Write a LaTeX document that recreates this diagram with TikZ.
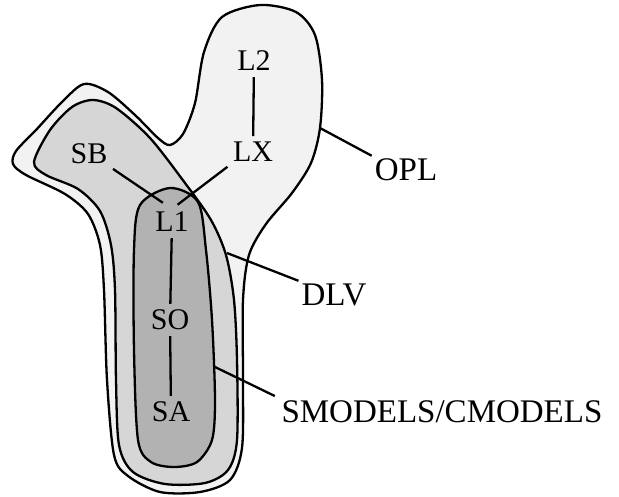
\documentclass[tikz,border=0pt]{standalone}
\usepackage{fontspec}
\setmainfont{Liberation Serif}
\definecolor{oplgray}{gray}{0.95}
\definecolor{dlvgray}{gray}{0.84}
\definecolor{smodgray}{gray}{0.70}

\begin{document}
\begin{tikzpicture}[x=1pt,y=-1pt,line width=2.3pt,
    lbl/.style={inner sep=2pt,font=\fontsize{30}{36}\selectfont},
    tag/.style={inner sep=2pt,font=\fontsize{33}{40}\selectfont},
    link/.style={shorten <=3pt,shorten >=3pt}]
    \useasboundingbox (0,0) rectangle (619,496);
    \filldraw[fill=oplgray] plot[smooth cycle] coordinates {(13,164) (16,151) (36,130) (62,102) (84,84) (108,92) (135,115) (158,138) (170,145) (183,134) (195,103) (204,52) (222,17) (260,5) (296,12) (315,35) (322,80) (320,128) (311,163) (292,193) (266,224) (249,255) (243,300) (243,380) (242,448) (230,480) (200,492) (160,492) (128,476) (114,455) (107,380) (104,290) (100,245) (88,214) (65,194) (26,175)};
    \filldraw[fill=dlvgray] plot[smooth cycle] coordinates {(34,162) (50,130) (72,107) (93,100) (116,108) (150,138) (185,183) (211,220) (226,255) (234,300) (237,360) (237,440) (228,470) (205,483) (165,484) (133,472) (119,445) (116,380) (115,290) (111,245) (100,211) (78,189) (46,175)};
    \filldraw[fill=smodgray] plot[smooth cycle] coordinates {(134,250) (140,205) (170,188) (198,202) (206,250) (212,320) (215,400) (212,440) (197,462) (174,467) (151,462) (138,440) (134,350)};
    \node[lbl] (L2) at (254,61) {L2};
    \node[lbl] (LX) at (253,152) {LX};
    \node[lbl] (SB) at (89,154) {SB};
    \node[lbl] (L1) at (172,222) {L1};
    \node[lbl] (SO) at (170,320) {SO};
    \node[lbl] (SA) at (171,412) {SA};
    \draw[link] (L2) -- (LX);
    \draw[link,shorten >=11pt] (SB.south east) -- (L1.north);
    \draw[link,shorten >=7pt] (LX.south west) -- (L1.north);
    \draw[link] (L1) -- (SO);
    \draw[link] (SO) -- (SA);
    \node[tag] (OPL) at (406,170) {OPL};
    \node[tag] (DLV) at (334,295) {DLV};
    \node[tag] (SMOD) at (442,412) {SMODELS/CMODELS};
    \coordinate (oplpin) at (320,128);
    \coordinate (dlvpin) at (227,253);
    \coordinate (smodpin) at (215,367);
    \draw (oplpin) -- (OPL.north west);
    \draw (dlvpin) -- (DLV.north west);
    \draw[shorten >=4pt] (smodpin) -- (SMOD.north west);

\end{tikzpicture}
\end{document}
